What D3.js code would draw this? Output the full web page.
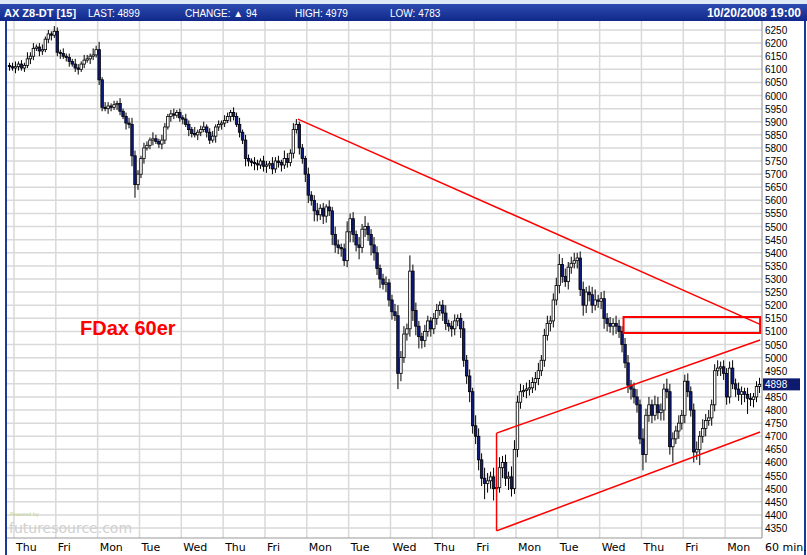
<!DOCTYPE html>
<html><head><meta charset="utf-8">
<script src="https://cdnjs.cloudflare.com/ajax/libs/d3/7.8.5/d3.min.js"></script>
<style>body{margin:0;background:#fff}svg{display:block;font-family:"DejaVu Sans",Arial,sans-serif}</style>
</head><body><svg id="c" width="807" height="555"></svg>
<script>
const closes = [6110,6105,
6110,6120,6105,6115,6140,6150,6180,6185,6170,6175,6215,6235,6230,6245,
6165,6160,6150,6145,6130,6120,6105,6100,6120,6135,6140,6150,6155,6175,
6060,5955,5950,5960,5955,5965,5970,5940,5920,5895,5890,5770,5660,5700,
5760,5800,5810,5830,5835,5825,5815,5830,5880,5920,5930,5925,5935,5915,
5910,5890,5870,5855,5850,5860,5870,5880,5860,5830,5845,5880,5890,5895,
5905,5920,5935,5920,5890,5860,5830,5760,5750,5745,5740,5735,5750,5730,
5735,5740,5720,5750,5745,5735,5760,5745,5780,5870,5890,5800,5760,5700,
5620,5600,5560,5545,5570,5540,5575,5560,5470,5430,5420,5415,5370,5480,
5530,5470,5430,5420,5490,5500,5470,5430,5400,5340,5300,5280,5285,5220,
5175,5160,4940,5000,5090,5110,5330,5180,5120,5080,5065,5100,5140,5110,
5150,5180,5200,5170,5130,5120,5110,5140,5150,5110,4990,4930,4870,4740,
4700,4610,4540,4520,4530,4545,4500,4505,4580,4600,4540,4545,4500,4650,
4830,4870,4875,4880,4885,4905,4920,4950,4990,5085,5130,5140,5220,5275,
5355,5310,5290,5345,5360,5370,5380,5260,5200,5250,5240,5200,5220,5215,
5225,5150,5130,5120,5130,5120,5100,5050,4980,4895,4880,4850,4820,4690,
4630,4780,4820,4780,4820,4790,4800,4880,4870,4660,4690,4720,4750,4780,
4910,4870,4800,4640,4650,4700,4730,4760,4770,4820,4950,4960,4965,4940,
4850,4960,4900,4880,4860,4870,4860,4845,4840,4850,4890,4898];
const wickUp = [10,15,20,10,15,10,25,15,20,10,15,20,10,15,10,20,15,10,20,10,15,10,20,15,10,20,15,10,25,15,
30,10,20,15,10,15,10,20,10,15,20,25,20,15,10,20,15,10,25,15,10,20,15,10,15,20,10,15,10,20,15,10,25,10,15,20,10,15,20,10,15,10,
20,15,10,20,15,25,10,20,15,10,20,15,10,20,15,10,25,15,20,10,30,20,15,25,20,10,15,10,
25,15,20,30,15,20,10,25,15,30,20,15,20,40,20,25,15,30,20,40,15,20,30,25,15,20,25,15,
20,30,40,25,30,20,60,25,30,20,15,25,20,15,20,25,15,20,30,15,20,25,15,20,30,20,25,15,
40,30,25,40,30,20,35,30,40,25,30,20,40,35,25,30,20,25,30,20,25,30,20,25,30,20,25,30,
40,25,30,20,25,30,20,25,30,20,25,30,40,20,25,30,20,25,20,30,25,20,25,30,20,25,30,20,
40,25,30,20,35,30,25,20,40,30,25,20,30,20,25,30,20,25,30,20,35,25,30,20,25,30,20,25,
20,25,30,20,25,20,15,25,20,15,20,25];
const wickDown = [15,10,20,15,10,15,10,20,15,10,20,15,10,15,20,10,15,20,10,15,20,10,15,20,10,15,10,20,15,10,
20,15,10,20,15,10,20,15,10,25,15,40,50,20,15,20,10,15,20,10,15,20,15,10,20,15,10,15,20,10,25,15,10,20,15,10,20,15,10,25,15,20,
15,10,20,15,10,20,15,30,20,15,25,20,15,20,25,15,20,15,20,25,15,20,15,20,15,25,20,30,
30,20,40,25,20,30,25,20,40,30,25,30,20,25,40,30,25,45,20,30,25,40,30,25,35,20,30,25,
30,20,60,30,20,25,30,40,35,45,30,25,20,30,20,25,20,30,25,20,30,25,20,35,25,30,40,30,
30,40,30,60,35,30,45,30,20,40,30,45,30,20,30,25,20,30,25,20,30,25,20,25,20,30,25,20,
30,25,20,30,25,20,30,25,40,30,25,30,20,25,30,40,30,25,35,30,25,30,20,30,40,25,30,20,
60,30,25,30,20,25,30,40,25,30,60,20,30,25,30,20,25,40,30,60,25,30,20,30,25,20,30,25,
30,25,20,30,25,40,30,60,25,30,20,25];
const dayLabels = ["Thu","Fri","Mon","Tue","Wed","Thu","Fri","Mon","Tue","Wed","Thu","Fri","Mon","Tue","Wed","Thu","Fri","Mon"];
const priceTicks = d3.range(4350, 6251, 50);
const lastPrice = 4898;
const trendLines = [[96.5,5910,251.2,5127],[163,4712,251.2,5067],[163,4339,251.2,4716],[163,4712,163,4339]];
const boxRect = [205.5,5155,251.2,5094];

const svg = d3.select("#c");
const x = d3.scaleLinear().domain([0,251]).range([9.5,759.5]);
const y = d3.scaleLinear().domain([4350,6250]).range([528,30]);
const bw = 2.5;

const hg = svg.append("defs").append("linearGradient").attr("id","hg").attr("x1",0).attr("y1",0).attr("x2",0).attr("y2",1);
hg.append("stop").attr("offset",0).attr("stop-color","#2d4cb0");
hg.append("stop").attr("offset",1).attr("stop-color","#10288a");
svg.append("rect").attr("x",0).attr("y",0).attr("width",807).attr("height",4).attr("fill","#dfe8f5");
svg.append("rect").attr("x",0).attr("y",4).attr("width",807).attr("height",17).attr("fill","url(#hg)");
const ht=[["AX Z8-DT [15]",4,"bold",11],["LAST: 4899",88,"normal",10],["CHANGE: \u25B2 94",185,"normal",10],["HIGH: 4979",295,"normal",10],["LOW: 4783",390,"normal",10]];
ht.forEach(t=>svg.append("text").attr("x",t[1]).attr("y",17).attr("fill","#fff").attr("font-weight",t[2]).attr("font-size",t[3]).attr("font-family","Arial, Liberation Sans").text(t[0]));
svg.append("text").attr("x",801).attr("y",17).attr("text-anchor","end").attr("fill","#fff").attr("font-weight","bold").attr("font-size",12).attr("font-family","Arial, Liberation Sans").text("10/20/2008 19:00");

priceTicks.forEach(v=>svg.append("line").attr("x1",7).attr("x2",762).attr("y1",y(v)).attr("y2",y(v)).attr("stroke","#d9d9d9").attr("stroke-width",1.5));
dayLabels.forEach((d,k)=>{const xx=x(2+14*k)-1.5;
 svg.append("line").attr("x1",xx).attr("x2",xx).attr("y1",21).attr("y2",538).attr("stroke","#d9d9d9").attr("stroke-width",1.5);
 svg.append("text").attr("x",xx+2).attr("y",551).attr("font-size",11).attr("font-family","Verdana, DejaVu Sans").attr("fill","#000").text(d);});
svg.append("line").attr("x1",7).attr("x2",762).attr("y1",538).attr("y2",538).attr("stroke","#999");
svg.append("line").attr("x1",762).attr("x2",762).attr("y1",21).attr("y2",538).attr("stroke","#888");
svg.append("line").attr("x1",6).attr("x2",6).attr("y1",21).attr("y2",555).attr("stroke","#1a3a9a").attr("stroke-width",2);
svg.append("line").attr("x1",805).attr("x2",805).attr("y1",21).attr("y2",555).attr("stroke","#1a3a9a").attr("stroke-width",2);
svg.append("text").attr("x",765).attr("y",551).attr("font-size",11).attr("font-family","Verdana, DejaVu Sans").text("60 min.");

svg.append("text").attr("x",10).attr("y",516).attr("font-size",5).attr("fill","#b5d08a").text("Powered by");
svg.append("text").attr("x",9).attr("y",533).attr("font-size",14).attr("fill","#d0d0d0").attr("font-family","Verdana, DejaVu Sans").text("futuresource.com");

priceTicks.forEach(v=>svg.append("text").attr("x",765).attr("y",y(v)+4).attr("font-size",10).attr("font-family","Arial, Liberation Sans").text(v));
svg.append("rect").attr("x",763).attr("y",y(lastPrice)-6).attr("width",37).attr("height",12).attr("fill","#0d1a6e");
svg.append("text").attr("x",765).attr("y",y(lastPrice)+4).attr("font-size",10).attr("fill","#fff").attr("font-family","Arial, Liberation Sans").text(lastPrice);

const data = closes.map((c,i)=>{const o=i?closes[i-1]:c+5;return {i,o,c,h:Math.max(o,c)+wickUp[i],l:Math.min(o,c)-wickDown[i]};});
const g=svg.append("g");
g.selectAll("line.w").data(data).join("line").attr("x1",d=>x(d.i)).attr("x2",d=>x(d.i)).attr("y1",d=>y(d.h)).attr("y2",d=>y(d.l)).attr("stroke","#000").attr("stroke-width",1);
g.selectAll("rect").data(data).join("rect").attr("x",d=>x(d.i)-bw/2).attr("width",bw)
 .attr("y",d=>y(Math.max(d.o,d.c))).attr("height",d=>Math.max(1,Math.abs(y(d.o)-y(d.c))))
 .attr("fill",d=>d.c>=d.o?"#fff":"#0d1a80").attr("stroke","#000").attr("stroke-width",0.8);

trendLines.forEach(t=>svg.append("line").attr("x1",x(t[0])).attr("y1",y(t[1])).attr("x2",x(t[2])).attr("y2",y(t[3])).attr("stroke","#f00").attr("stroke-width",1.5));
svg.append("rect").attr("x",x(boxRect[0])).attr("y",y(boxRect[1])).attr("width",x(boxRect[2])-x(boxRect[0])).attr("height",y(boxRect[3])-y(boxRect[1])).attr("fill","none").attr("stroke","#f00").attr("stroke-width",2);
svg.append("text").attr("x",80).attr("y",335).attr("fill","#f00").attr("font-weight","bold").attr("font-size",20).attr("font-family","Arial, Liberation Sans").text("FDax 60er");
</script></body></html>
